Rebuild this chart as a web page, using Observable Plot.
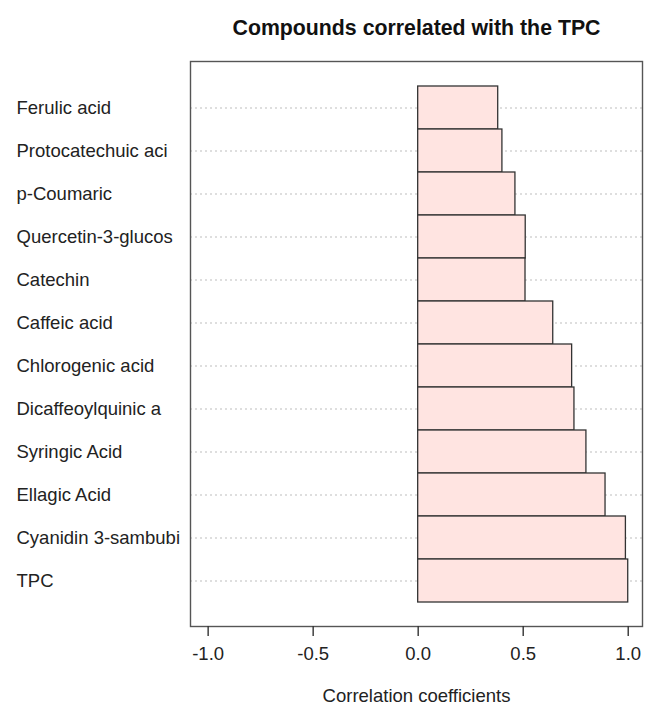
<!DOCTYPE html>
<html>
<head>
<meta charset="utf-8">
<script src="https://cdn.jsdelivr.net/npm/d3@7"></script>
<script src="https://cdn.jsdelivr.net/npm/@observablehq/plot@0.6"></script>
<style>
  html, body { margin: 0; padding: 0; background: #fff; }
  svg { display: block; }
</style>
</head>
<body>
<div id="chart"></div>
<script>
const compounds = [
  "Ferulic acid",
  "Protocatechuic aci",
  "p-Coumaric",
  "Quercetin-3-glucos",
  "Catechin",
  "Caffeic acid",
  "Chlorogenic acid",
  "Dicaffeoylquinic a",
  "Syringic Acid",
  "Ellagic Acid",
  "Cyanidin 3-sambubi",
  "TPC"
];
const coefficients = [0.381, 0.401, 0.463, 0.512, 0.511, 0.643, 0.733, 0.744, 0.801, 0.892, 0.989, 1.0];
const xTicks = [-1, -0.5, 0, 0.5, 1];
const titleText = "Compounds correlated with the TPC";
const xLabel = "Correlation coefficients";

const data = compounds.map((c, i) => ({compound: c, r: coefficients[i]}));
const font = "'Liberation Sans', Arial, Helvetica, sans-serif";

const chart = Plot.plot({
  width: 645,
  height: 715,
  marginTop: 61,
  marginBottom: 89,
  marginLeft: 190,
  marginRight: 3,
  style: {fontFamily: font, fontSize: "18.5px", color: "#222", background: "#fff"},
  x: {domain: [-1.084, 1.068], ticks: xTicks},
  y: {domain: compounds, type: "band", paddingInner: 0, paddingOuter: 0.5, axis: null},
  marks: [
    Plot.ruleY(compounds, {y: d => d, stroke: "#bdbdbd", strokeWidth: 1, strokeDasharray: "2,3"}),
    Plot.barX(data, {x1: 0, x2: "r", y: "compound", fill: "#FFE4E1", stroke: "#333", strokeWidth: 1.3}),
    Plot.frame({stroke: "#555", strokeWidth: 1.4}),
    Plot.axisX(xTicks, {tickSize: 10, tickPadding: 10, tickFormat: d => d.toFixed(1), stroke: "#333", strokeWidth: 1.4, fill: "#222", fontSize: 18.5, label: null}),
    Plot.text(compounds, {y: d => d, text: d => d, frameAnchor: "left", textAnchor: "start", dx: -174, fill: "#222", fontSize: 18.5}),
    Plot.text([titleText], {text: d => d, frameAnchor: "top", dy: -41.5, fontWeight: "bold", fontSize: 21.3, fill: "#111"}),
    Plot.text([xLabel], {text: d => d, frameAnchor: "bottom", dy: 75, fontSize: 18.5, fill: "#222"})
  ]
});
document.getElementById("chart").appendChild(chart);
</script>
</body>
</html>
